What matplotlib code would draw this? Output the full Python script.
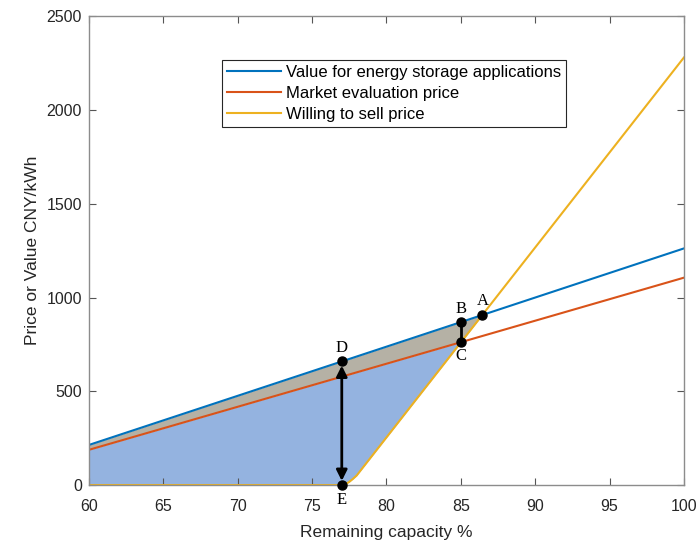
import matplotlib.pyplot as plt
import numpy as np

# data
capacity_ends = [60, 100]
value_storage = [214, 1262]       # blue line
market_price = [188, 1106]        # red line
sell_x = [60, 77, 77.25, 77.5, 77.75, 78, 100]
sell_price = [0, 0, 5, 17, 33, 51, 2280]   # yellow line

x_de = 77   # D / E position
x_bc = 85   # B / C position

blue_c = "#0072BD"
red_c = "#D95319"
yel_c = "#EDB120"

xx = np.linspace(60, 100, 4001)
vb = np.interp(xx, capacity_ends, value_storage)
vr = np.interp(xx, capacity_ends, market_price)
vy = np.interp(xx, sell_x, sell_price)

fig = plt.figure(figsize=(7, 5.42), dpi=100)
ax = fig.add_axes([0.127, 0.105, 0.85, 0.865])

# shaded areas
lower = np.maximum(vr, vy)
ax.fill_between(xx, lower, vb, where=vb > lower, color="#b5b1a5", lw=0, interpolate=True)
ax.fill_between(xx, vy, vr, where=vr > vy, color="#94b3e0", lw=0, interpolate=True)

ax.plot(capacity_ends, value_storage, color=blue_c, lw=1.5, label="Value for energy storage applications")
ax.plot(capacity_ends, market_price, color=red_c, lw=1.5, label="Market evaluation price")
ax.plot(sell_x, sell_price, color=yel_c, lw=1.5, label="Willing to sell price")

# key points
i_a = np.where(vy >= vb)[0][0]
pA = (xx[i_a], vb[i_a])
pB = (x_bc, np.interp(x_bc, capacity_ends, value_storage))
pC = (x_bc, np.interp(x_bc, capacity_ends, market_price))
pD = (x_de, np.interp(x_de, capacity_ends, value_storage))
pE = (x_de, 0)

ax.plot([pB[0], pC[0]], [pB[1], pC[1]], color="k", lw=2, zorder=4)
ax.annotate("", xy=pD, xytext=pE,
            arrowprops=dict(arrowstyle="<|-|>", color="k", lw=2, mutation_scale=16,
                            shrinkA=3, shrinkB=3), zorder=4)

for p in [pA, pB, pC, pD, pE]:
    ax.plot(*p, "o", color="k", ms=6.5, zorder=5, clip_on=False)

serif = dict(family="Liberation Serif", fontsize=12, color="k")
ax.annotate("A", pA, xytext=(0, 4), textcoords="offset points", ha="center", va="bottom", **serif)
ax.annotate("B", pB, xytext=(0, 4), textcoords="offset points", ha="center", va="bottom", **serif)
ax.annotate("C", pC, xytext=(0, -4), textcoords="offset points", ha="center", va="top", **serif)
ax.annotate("D", pD, xytext=(0, 4), textcoords="offset points", ha="center", va="bottom", **serif)
ax.annotate("E", pE, xytext=(0, -5), textcoords="offset points", ha="center", va="top",
            annotation_clip=False, zorder=6, **serif)

ax.set_xlim(60, 100)
ax.set_ylim(0, 2500)
ax.set_xticks(np.arange(60, 101, 5))
ax.set_yticks(np.arange(0, 2501, 500))

for s in ax.spines.values():
    s.set_color("#8c8c8c")
    s.set_linewidth(1)
ax.tick_params(direction="in", top=True, right=True, length=5, color="#555555",
               labelsize=11.5, labelcolor="#262626")
ax.tick_params(axis="x", pad=10)
ax.tick_params(axis="y", pad=5)
for lab in ax.get_xticklabels() + ax.get_yticklabels():
    lab.set_family("Liberation Sans")

ax.set_xlabel("Remaining capacity %", fontsize=12.5, family="Liberation Sans", color="#262626",
              labelpad=8)
ax.set_ylabel("Price or Value CNY/kWh", fontsize=12.5, family="Liberation Sans", color="#262626",
              labelpad=5)

leg = ax.legend(loc="upper left", bbox_to_anchor=(0.224, 0.906), fancybox=False,
                edgecolor="#262626", framealpha=1, handlelength=3.2,
                prop=dict(family="Liberation Sans", size=12), borderaxespad=0,
                labelspacing=0.35, handletextpad=0.3, borderpad=0.3)
leg.get_frame().set_linewidth(0.8)

fig.savefig("out.png", dpi=100)
